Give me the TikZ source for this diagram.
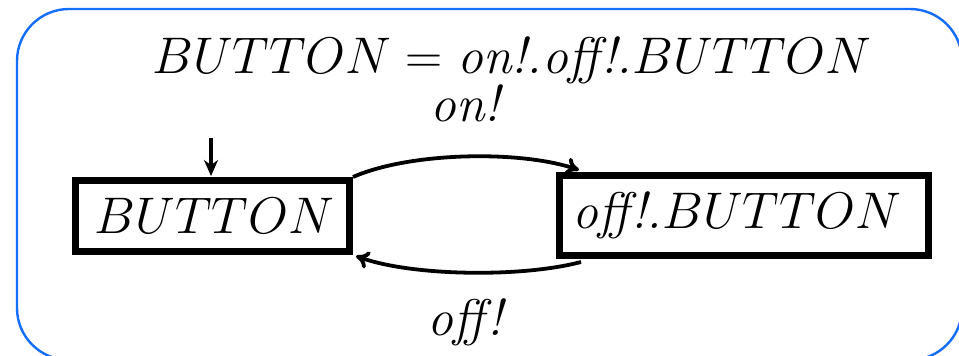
\documentclass[tikz,border=0pt]{standalone}
\usetikzlibrary{arrows.meta}
\begin{document}
\begin{tikzpicture}[x=1pt,y=-1pt,
  statebox/.style={draw,line width=7pt,inner sep=0pt,anchor=north west},
  lbl/.style={font=\Huge,inner sep=0pt,scale=2.07},
  trans/.style={line width=3.8pt,-{To[length=13pt,width=18pt]}},
  frame/.style={draw={rgb,255:red,20;green,110;blue,250},line width=2.4pt,rounded corners=52pt}]
\useasboundingbox (0,0) rectangle (959,356);
\clip (0,0) rectangle (959,356);
\fill[white] (0,0) rectangle (959,356);
\path[frame] (17,9) rectangle (962,360);
\node[lbl] (title) at (512,60) {$BUTTON = \textit{on!.off!.}BUTTON$};
\node[lbl] (onl) at (467,103) {\textit{on!}};
\node[lbl] (offl) at (467,322) {\textit{off!}};
\node[statebox,minimum width=274pt,minimum height=71pt] (b) at (72,177) {};
\node[lbl] at ([xshift=2pt]b.center) {$BUTTON$};
\node[statebox,minimum width=369pt,minimum height=80pt] (o) at (556,172) {};
\node[lbl] at ([xshift=-7pt]o.center) {$\textit{off!.}BUTTON$};
\coordinate (init) at (211,138);
\coordinate (bin) at (211,176);
\draw[line width=4pt,-{Stealth[length=16pt,width=14pt]}] (init) -- (bin);
\coordinate (oin) at (579,170);
\coordinate (oout) at (581,262);
\coordinate (bret) at (356,256);
\draw[trans] (b.north east) .. controls (410,152) and (520,150) .. (oin);
\draw[trans] (oout) .. controls (520,278) and (410,276) .. (bret);
\end{tikzpicture}
\end{document}
